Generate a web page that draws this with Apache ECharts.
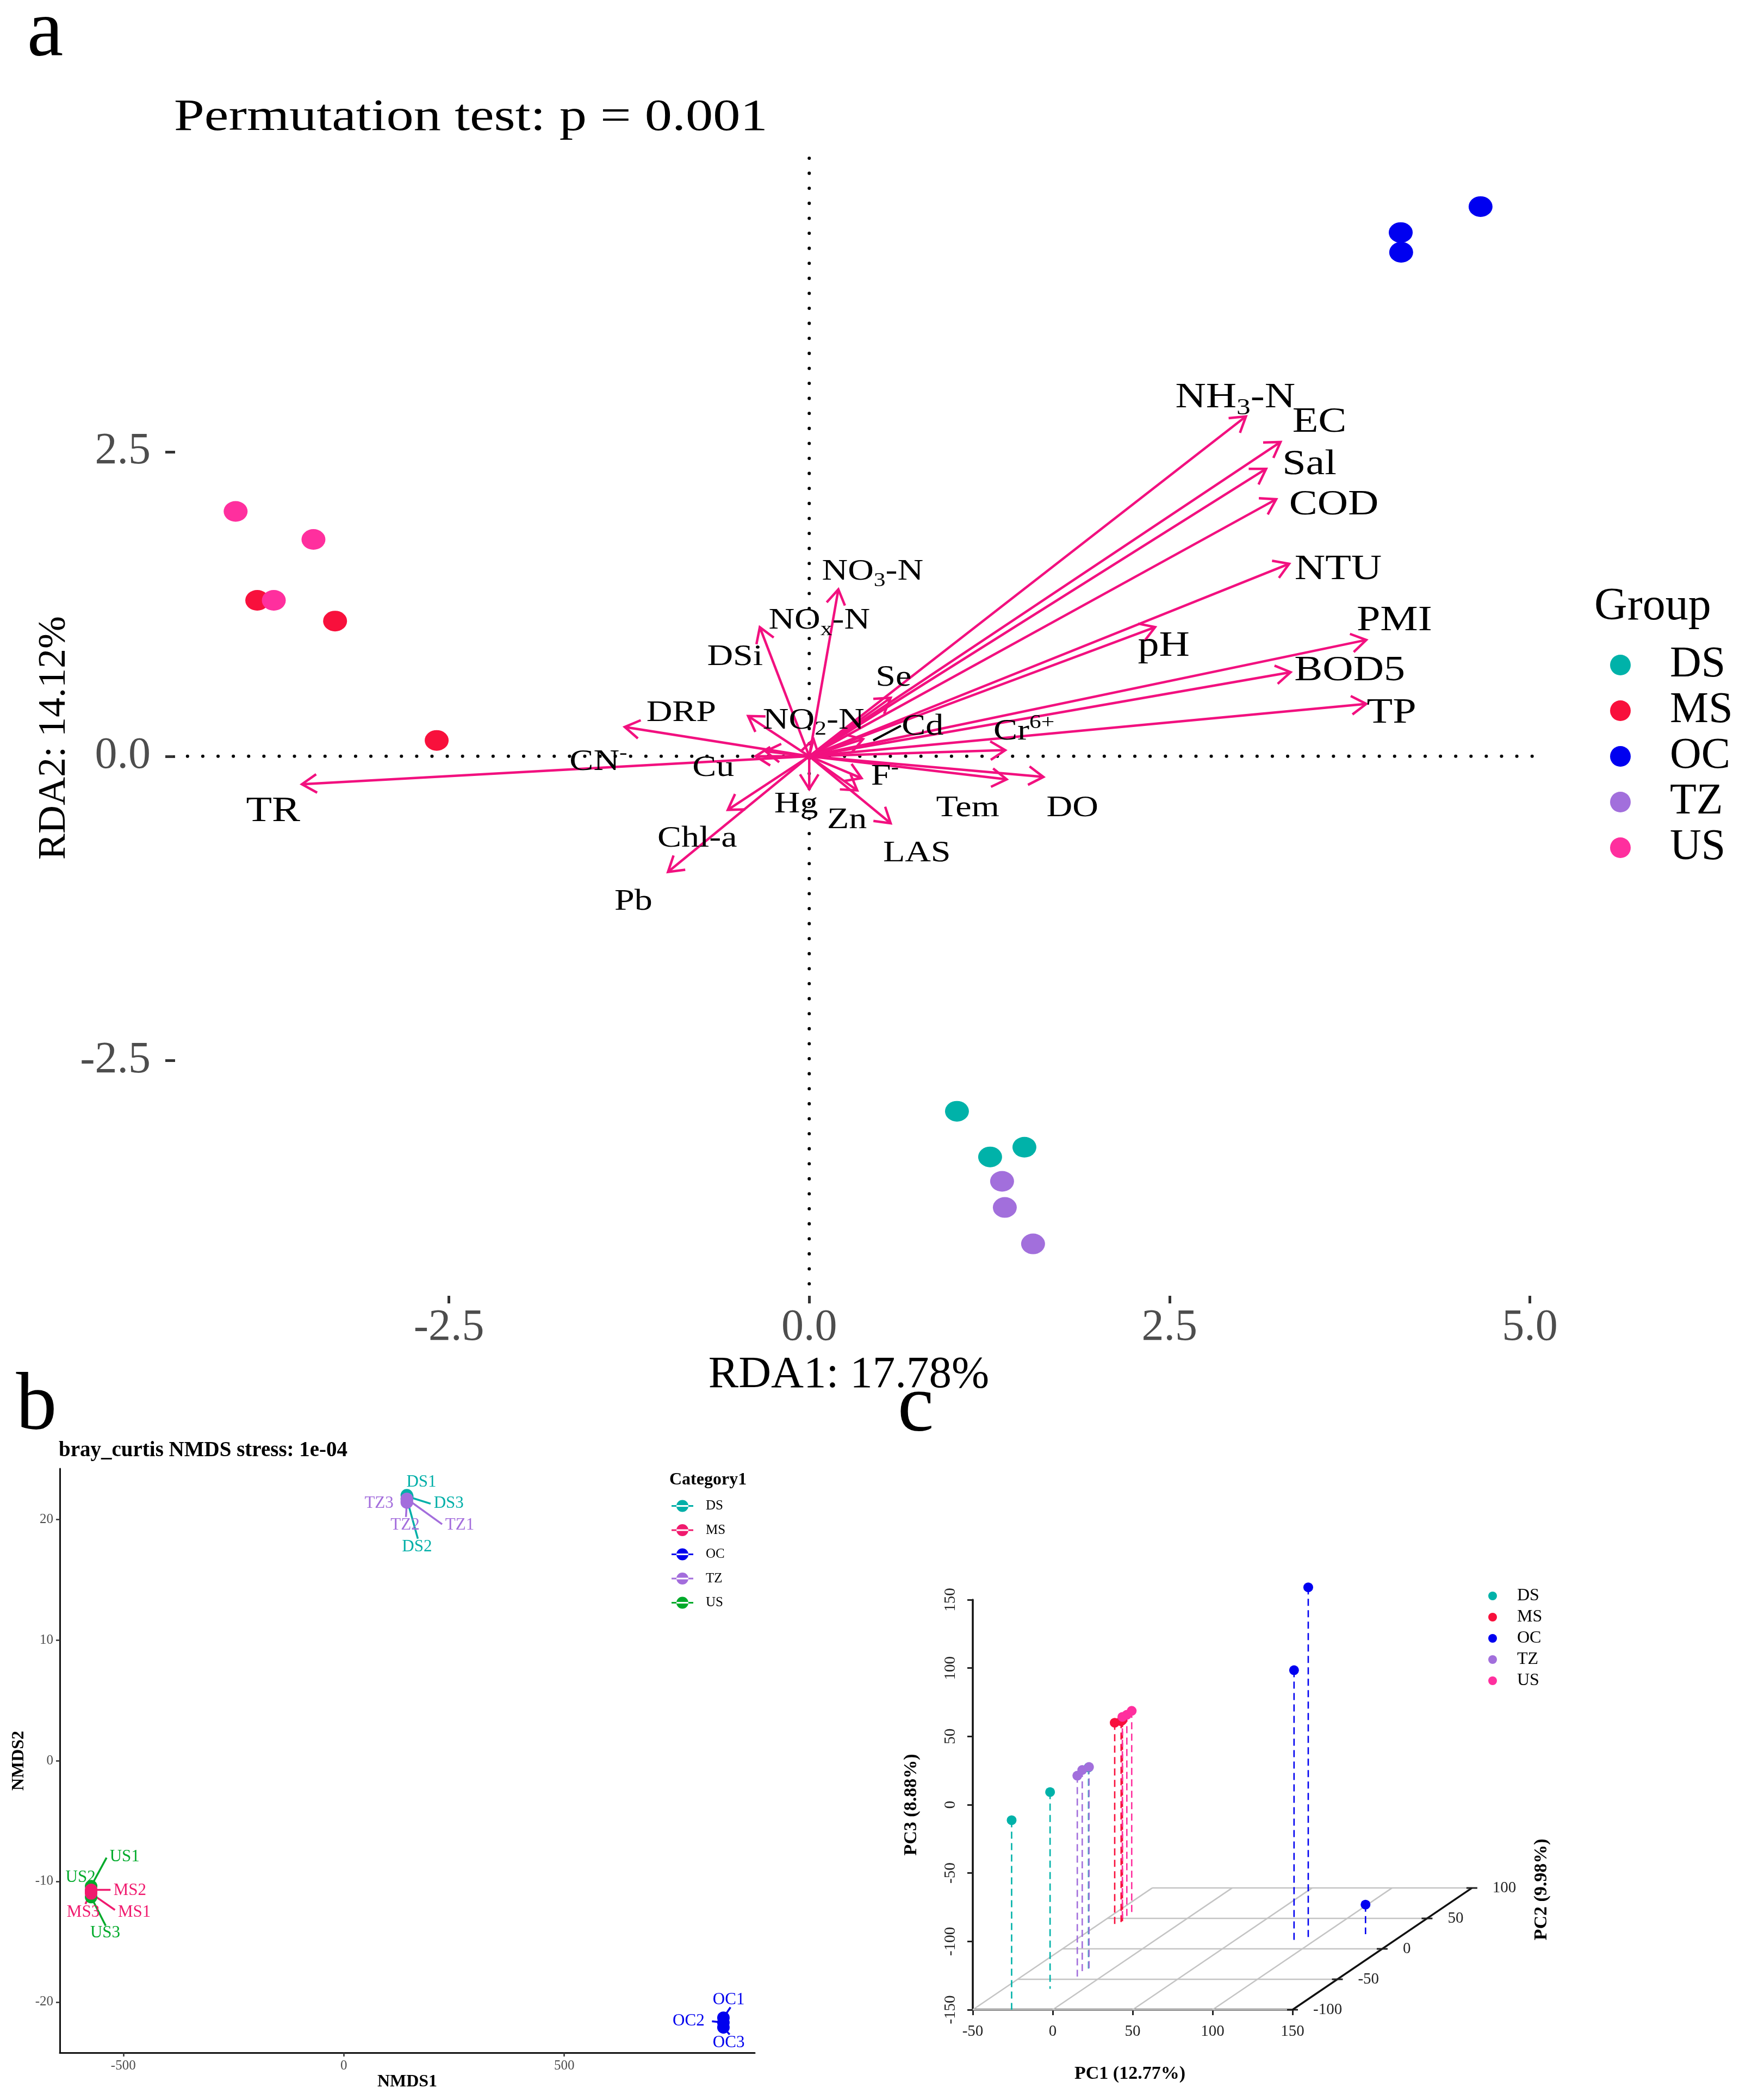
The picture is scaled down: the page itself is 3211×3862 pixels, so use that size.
<!DOCTYPE html>
<html><head><meta charset="utf-8">
<style>html,body{margin:0;padding:0;background:#fff}#c{width:3211px;height:3862px}</style>
<script src="https://cdn.jsdelivr.net/npm/echarts@6/dist/echarts.min.js"></script>
</head><body><div id="c"></div>
<script>
const SERIF = '"Liberation Serif"';
// ---------- Panel a: RDA ----------
const groups = ['DS','MS','OC','TZ','US'];
const colorsA = {DS:'#00B2A9',MS:'#F8103C',OC:'#0000F0',TZ:'#A26FDC',US:'#FF2F9E'};
const siteGroupA = ['US','US','US','MS','MS','MS','OC','OC','OC','DS','DS','DS','TZ','TZ','TZ'];
const siteXA = [-3.98,-3.44,-3.715,-3.83,-3.29,-2.585,4.658,4.104,4.107,1.025,1.255,1.493,1.338,1.357,1.553];
const siteYA = [2.01,1.78,1.28,1.28,1.11,0.13,4.513,4.30,4.138,-2.915,-3.29,-3.21,-3.49,-3.705,-4.004];
const envNames = ['NH3-N','EC','Sal','COD','NTU','pH','PMI','BOD5','TP','Cr6+','Tem','DO','LAS','F-','Zn','Hg','Chl-a','Pb','TR','CN-','Cu','DRP','NO2-N','DSi','NOx-N','NO3-N','Se','Cd'];
const envX = [3.03,3.27,3.17,3.24,3.33,2.40,3.865,3.34,3.865,1.36,1.37,1.625,0.565,0.363,0.333,0.00,-0.565,-0.98,-3.52,-0.303,-0.373,-1.28,-0.424,0.03,-0.343,0.202,0.565,0.373];
const envY = [2.79,2.58,2.36,2.11,1.58,1.06,0.955,0.69,0.43,0.05,-0.19,-0.17,-0.55,-0.18,-0.28,-0.27,-0.44,-0.95,-0.23,0.04,0.00,0.24,0.33,0.14,1.06,1.37,0.48,0.14];
const envLabelX = [2.956,3.54,3.47,3.64,3.67,2.46,4.06,3.75,4.04,1.49,1.10,1.826,0.747,0.525,0.262,-0.091,-0.777,-1.22,-3.72,-1.463,-0.666,-0.888,0.03,-0.515,0.07,0.44,0.585,0.787];
const envLabelY = [2.96,2.76,2.41,2.08,1.55,0.92,1.13,0.72,0.37,0.22,-0.41,-0.41,-0.78,-0.15,-0.51,-0.38,-0.66,-1.18,-0.44,-0.03,-0.08,0.37,0.31,0.83,1.13,1.53,0.66,0.26];
const envLarge = ['NH3-N','EC','Sal','COD','NTU','pH','PMI','BOD5','TP','TR'];
const envRich = {'NH3-N':'{M|NH}{D|3}{M|-N}','NO3-N':'{M|NO}{D|3}{M|-N}','NOx-N':'{M|NO}{D|x}{M|-N}','NO2-N':'{M|NO}{D|2}{M|-N}','Cr6+':'{M|Cr}{U|6+}','CN-':'{M|CN}{U|-}','F-':'{M|F}{U|-}'};
const cdLeaderX = [0.444,0.636];
const cdLeaderY = [0.13,0.25];
const zeroLineX = [-4.42,5.055];
const zeroLineY = [4.91,-4.43];
const ticksXA = [-2.5,0,2.5,5];
const ticksYA = [-2.5,0,2.5];
// ---------- Panel b: NMDS ----------
const colorsB = {DS:'#00AFA8',MS:'#F01A6E',OC:'#0000EE',TZ:'#A36DDC',US:'#00AA2A'};
const bNames = ['DS1','DS2','DS3','TZ1','TZ2','TZ3','US1','US2','US3','MS1','MS2','MS3','OC1','OC2','OC3'];
const bX = [143,143,144,143,143,143,-573,-573,-573,-573,-573,-573,861,861,861];
const bY = [22.0,21.7,21.9,21.7,21.4,21.5,-10.4,-10.8,-11.3,-11.0,-10.7,-10.9,-21.3,-21.7,-22.1];
const bLabelX = [176,166,238,263,139,80,-497,-597,-541,-475,-485,-591,873,782,873];
const bLabelY = [23.1,17.7,21.3,19.5,19.5,21.3,-7.95,-9.7,-14.3,-12.55,-10.75,-12.55,-19.8,-21.6,-23.4];
const bEndX = [null,168,197,223,141,null,-538,null,-540,-519,-529,-586,877,835,875];
const bEndY = [null,18.4,21.3,19.6,20.2,null,-8.04,null,-13.68,-12.37,-10.7,-11.87,-20.44,-21.6,-22.7];
// ---------- Panel c: PCoA 3D ----------
const cGroup = ['DS','DS','DS','MS','MS','MS','OC','OC','OC','TZ','TZ','TZ','US','US','US'];
const pc1 = [-25.7,-21,-15,-40.1,-37.7,-38,87.4,94.6,126,-15.2,-16.2,-14.7,-40.4,-39.3,-39];
const pc2 = [-100,-65.5,-33.3,40.6,44.9,44,13.3,16.3,24.2,-45.5,-38.2,-33.3,49.7,52.7,57.6];
const pc3 = [-11.3,-6.1,-2.4,-2.6,-2.6,-3,48,107.3,-128.4,-3,-2.1,-2.1,-2.4,-2.2,-1.5];
const pc1Ticks = [-50,0,50,100,150];
const pc2Ticks = [-100,-50,0,50,100];
// 3D → plane of the c grid (PC1 / PC3 units), depth shift per PC2 unit
const depthX = 0.561, depthY = 0.4454;
const proj = (a,b,c)=>[a+(b+100)*depthX, c+(b+100)*depthY];

function lineEl(api,p,q,stroke,w,dash){
  const A=api.coord(p),B=api.coord(q);
  return {type:'line',shape:{x1:A[0],y1:A[1],x2:B[0],y2:B[1]},style:{stroke,lineWidth:w,lineDash:dash||null}};
}
const series = [];
// a: dotted zero lines
series.push({type:'line',name:'zeroH',xAxisIndex:0,yAxisIndex:0,data:zeroLineX.map(x=>[x,0]),symbol:'none',silent:true,z:1,clip:false,
  lineStyle:{color:'#000',width:6,type:[0.1,28],cap:'round'}});
series.push({type:'line',name:'zeroV',xAxisIndex:0,yAxisIndex:0,data:zeroLineY.map(y=>[0,y]),symbol:'none',silent:true,z:1,clip:false,
  lineStyle:{color:'#000',width:6,type:[0.1,27.5],cap:'round'}});
// a: sites
groups.forEach(g=>{
  series.push({type:'scatter',name:g,xAxisIndex:0,yAxisIndex:0,symbol:'circle',symbolSize:[44,38],z:3,
    itemStyle:{color:colorsA[g],opacity:1},
    data:siteGroupA.map((s,i)=>s===g?[siteXA[i],siteYA[i]]:null).filter(Boolean)});
});
// a: arrows
series.push({type:'custom',name:'env',xAxisIndex:0,yAxisIndex:0,z:4,silent:true,
  data:envX.map((x,i)=>[x,envY[i]]),
  encode:{x:0,y:1},
  renderItem:(p,api)=>{
    const O=api.coord([0,0]),T=api.coord([api.value(0),api.value(1)]);
    const ang=Math.atan2(T[1]-O[1],T[0]-O[0]),len=32,sp=0.56;
    const b1=[T[0]-len*Math.cos(ang-sp),T[1]-len*Math.sin(ang-sp)];
    const b2=[T[0]-len*Math.cos(ang+sp),T[1]-len*Math.sin(ang+sp)];
    const st={stroke:'#F2107F',lineWidth:4.5,fill:null};
    return {type:'group',children:[
      {type:'polyline',shape:{points:[O,T]},style:st},
      {type:'polyline',shape:{points:[b1,T,b2]},style:st}]};
  }});
// a: Cd leader
series.push({type:'line',name:'CdLeader',xAxisIndex:0,yAxisIndex:0,z:4,symbol:'none',silent:true,
  data:cdLeaderX.map((x,i)=>[x,cdLeaderY[i]]),lineStyle:{color:'#000',width:4}});
// a: labels
series.push({type:'custom',name:'envLabels',xAxisIndex:0,yAxisIndex:0,z:5,silent:true,
  data:envLabelX.map((x,i)=>[x,envLabelY[i]]),
  encode:{x:0,y:1},
  renderItem:(p,api)=>{
    const n=envNames[p.dataIndex],P=api.coord([api.value(0),api.value(1)]);
    const fs=envLarge.includes(n)?65:55;
    const tok=(size,va)=>({fontFamily:SERIF,fontSize:size,fill:'#000',lineHeight:fs*1.25,verticalAlign:va||'middle'});
    return {type:'text',x:P[0],y:P[1]+4,scaleX:1.2,style:{
      text:envRich[n]||n,fontFamily:SERIF,fontSize:fs,fill:'#000',align:'center',verticalAlign:'middle',
      rich:{M:tok(fs),D:tok(fs*.66,'bottom'),U:tok(fs*.66,'top')}}};
  }});
// b: leaders
series.push({type:'custom',name:'bLeaders',xAxisIndex:1,yAxisIndex:1,z:2,silent:true,
  data:bX.map((x,i)=>[x,bY[i],bEndX[i]===null?x:bEndX[i],bEndY[i]===null?bY[i]:bEndY[i]]),
  encode:{x:0,y:1},
  renderItem:(p,api)=>{
    const n=bNames[p.dataIndex],g=n.slice(0,2);
    return lineEl(api,[api.value(0),api.value(1)],[api.value(2),api.value(3)],colorsB[g],3.5);
  }});
// b: points (drawn per group)
['US','DS','TZ','MS','OC'].forEach(g=>{
  series.push({type:'scatter',name:g,xAxisIndex:1,yAxisIndex:1,symbol:'circle',symbolSize:23,z:3,
    itemStyle:{color:colorsB[g],opacity:1},
    data:bNames.map((n,i)=>n.startsWith(g)?[bX[i],bY[i]]:null).filter(Boolean)});
});
// b: labels
series.push({type:'custom',name:'bLabels',xAxisIndex:1,yAxisIndex:1,z:5,silent:true,
  data:bLabelX.map((x,i)=>[x,bLabelY[i]]),
  encode:{x:0,y:1},
  renderItem:(p,api)=>{
    const n=bNames[p.dataIndex],P=api.coord([api.value(0),api.value(1)]);
    return {type:'text',x:P[0],y:P[1],style:{text:n,fontFamily:SERIF,fontSize:31,fill:colorsB[n.slice(0,2)],align:'center',verticalAlign:'middle'}};
  }});
// c: floor grid
const floorLines=[];
pc1Ticks.forEach(a=>floorLines.push([a,-100,a,100]));
pc2Ticks.forEach(b=>floorLines.push([-50,b,150,b]));
series.push({type:'custom',name:'floor',xAxisIndex:2,yAxisIndex:2,z:1,silent:true,data:floorLines,
  encode:{x:0,y:1},
  renderItem:(p,api)=>lineEl(api,proj(api.value(0),api.value(1),-150),proj(api.value(2),api.value(3),-150),'#c4c4c4',2.5)});
// c: PC2 axis
series.push({type:'custom',name:'pc2Axis',xAxisIndex:2,yAxisIndex:2,z:2,silent:true,data:pc2Ticks.map(b=>[b]),
  encode:{x:0},
  renderItem:(p,api)=>{
    const b=api.value(0),P=api.coord(proj(150,b,-150));
    const kids=[{type:'line',shape:{x1:P[0]-10,y1:P[1],x2:P[0]+10,y2:P[1]},style:{stroke:'#222',lineWidth:3}},
      {type:'text',x:P[0]+38,y:P[1],style:{text:String(b),fontFamily:SERIF,fontSize:29,fill:'#222',align:'left',verticalAlign:'middle'}}];
    if(b===-100){const Q=api.coord(proj(150,100,-150));kids.push({type:'line',shape:{x1:P[0],y1:P[1],x2:Q[0],y2:Q[1]},style:{stroke:'#111',lineWidth:3.5}});}
    return {type:'group',children:kids};
  }});
series.push({type:'custom',name:'pc2Name',xAxisIndex:2,yAxisIndex:2,z:2,silent:true,data:[[305.8,-62]],
  encode:{x:0,y:1},
  renderItem:(p,api)=>{const P=api.coord([api.value(0),api.value(1)]);
    return {type:'text',x:P[0],y:P[1],rotation:Math.PI/2,style:{text:'PC2 (9.98%)',fontFamily:SERIF,fontWeight:'bold',fontSize:34,fill:'#000',align:'center',verticalAlign:'middle'}};}});
// c: drop lines
series.push({type:'custom',name:'drops',xAxisIndex:2,yAxisIndex:2,z:3,silent:true,
  data:pc1.map((a,i)=>[a,pc2[i],pc3[i]]),encode:{x:0,y:1},
  renderItem:(p,api)=>{
    const a=api.value(0),b=api.value(1),c=api.value(2),g=cGroup[p.dataIndex];
    return lineEl(api,proj(a,b,c),proj(a,b,-150),colorsA[g],2.6,[13,8]);
  }});
// c: points
groups.forEach(g=>{
  series.push({type:'scatter',name:g,xAxisIndex:2,yAxisIndex:2,symbol:'circle',symbolSize:18,z:4,clip:false,
    itemStyle:{color:colorsA[g],opacity:1},
    data:cGroup.map((s,i)=>s===g?proj(pc1[i],pc2[i],pc3[i]):null).filter(Boolean)});
});

const lg=(names,colors,icon)=>names.map(n=>({name:n,icon,itemStyle:{color:colors[n],opacity:1}}));
const bIcon='path://M0 9.5h40v3H0zM9 11a11 11 0 1 0 22 0a11 11 0 1 0-22 0z';
const option={
  animation:false,backgroundColor:'#fff',
  grid:[
    {left:322,top:291,width:2496,height:2092,containLabel:false},
    {left:110,top:2701,width:1278,height:1074,containLabel:false},
    {left:1789,top:2942,width:588,height:754,containLabel:false}],
  xAxis:[
    {type:'value',gridIndex:0,min:-4.40,max:5.017,name:'RDA1: 17.78%',nameLocation:'middle',nameGap:96,
     nameTextStyle:{fontFamily:SERIF,fontSize:83,color:'#000',padding:[0,18,0,0]},
     axisLine:{show:false,onZero:false},axisTick:{show:true,length:14,customValues:ticksXA,lineStyle:{color:'#333',width:5}},
     axisLabel:{customValues:ticksXA,formatter:v=>v.toFixed(1),fontFamily:SERIF,fontSize:82,color:'#4d4d4d',margin:18},splitLine:{show:false}},
    {type:'value',gridIndex:1,min:-644,max:932,name:'NMDS1',nameLocation:'middle',nameGap:36,
     nameTextStyle:{fontFamily:SERIF,fontSize:32,fontWeight:'bold',color:'#000'},
     axisLine:{show:true,onZero:false,lineStyle:{color:'#111',width:3}},axisTick:{length:7,customValues:[-500,0,500],lineStyle:{color:'#333',width:2.5}},
     axisLabel:{customValues:[-500,0,500],fontFamily:SERIF,fontSize:25,color:'#4d4d4d',margin:12},splitLine:{show:false}},
    {type:'value',gridIndex:2,min:-50,max:150,interval:50,name:'PC1 (12.77%)',nameLocation:'middle',nameGap:101,
     nameTextStyle:{fontFamily:SERIF,fontSize:34,fontWeight:'bold',color:'#000',padding:[0,10,0,0]},
     axisLine:{show:true,onZero:false,lineStyle:{color:'#111',width:3.5}},axisTick:{length:10,lineStyle:{color:'#222',width:3}},
     axisLabel:{fontFamily:SERIF,fontSize:29,color:'#222',margin:26},splitLine:{show:false}}],
  yAxis:[
    {type:'value',gridIndex:0,min:-4.43,max:4.91,name:'RDA2: 14.12%',nameLocation:'middle',nameGap:155,
     nameTextStyle:{fontFamily:SERIF,fontSize:72,color:'#000',padding:[0,40,0,0]},
     axisLine:{show:false,onZero:false},axisTick:{show:true,length:18,customValues:ticksYA,lineStyle:{color:'#333',width:5}},
     axisLabel:{customValues:ticksYA,formatter:v=>v.toFixed(1),fontFamily:SERIF,fontSize:82,color:'#4d4d4d',margin:45,padding:[8,0,0,0]},splitLine:{show:false}},
    {type:'value',gridIndex:1,min:-24.2,max:24.2,name:'NMDS2',nameLocation:'middle',nameGap:59,
     nameTextStyle:{fontFamily:SERIF,fontSize:32,fontWeight:'bold',color:'#000'},
     axisLine:{show:true,onZero:false,lineStyle:{color:'#111',width:3}},axisTick:{length:7,customValues:[-20,-10,0,10,20],lineStyle:{color:'#333',width:2.5}},
     axisLabel:{customValues:[-20,-10,0,10,20],fontFamily:SERIF,fontSize:25,color:'#4d4d4d',margin:12},splitLine:{show:false}},
    {type:'value',gridIndex:2,min:-150,max:150,interval:50,name:'PC3 (8.88%)',nameLocation:'middle',nameGap:96,
     nameTextStyle:{fontFamily:SERIF,fontSize:34,fontWeight:'bold',color:'#000'},
     axisLine:{show:true,onZero:false,lineStyle:{color:'#111',width:3.5}},axisTick:{length:10,lineStyle:{color:'#222',width:3}},
     axisLabel:{rotate:90,fontFamily:SERIF,fontSize:29,color:'#222',margin:26},splitLine:{show:false}}],
  title:[
    {text:'bray_curtis NMDS stress: 1e-04',left:108,top:2648,padding:0,textStyle:{fontFamily:SERIF,fontSize:39,fontWeight:'bold',color:'#000'}},
    {text:'Group',left:2932,top:1075,padding:0,textStyle:{fontFamily:SERIF,fontSize:84,fontWeight:'normal',color:'#000'}},
    {text:'Category1',left:1231,top:2706,padding:0,textStyle:{fontFamily:SERIF,fontSize:32,fontWeight:'bold',color:'#000'}}],
  legend:[
    {orient:'vertical',left:2961,top:1183,padding:0,itemWidth:44,itemHeight:38,itemGap:4,symbolKeepAspect:false,selectedMode:false,
     data:lg(groups,colorsA,'circle'),textStyle:{fontFamily:SERIF,fontSize:80,color:'#000',lineHeight:38,padding:[0,0,0,64]}},
    {orient:'vertical',left:1235,top:2757,padding:0,itemWidth:40,itemHeight:22,itemGap:19.5,symbolKeepAspect:false,selectedMode:false,
     data:lg(groups,colorsB,bIcon),textStyle:{fontFamily:SERIF,fontSize:25,color:'#000',lineHeight:20,padding:[0,0,0,18]}},
    {orient:'vertical',left:2737,top:2919,padding:0,itemWidth:16,itemHeight:16,itemGap:7,symbolKeepAspect:false,selectedMode:false,
     data:lg(groups,colorsA,'circle'),textStyle:{fontFamily:SERIF,fontSize:32,color:'#000',lineHeight:16,padding:[0,0,0,32]}}],
  graphic:[
    {type:'text',x:320,y:217,scaleX:1.225,style:{text:'Permutation test: p = 0.001',fontFamily:SERIF,fontSize:82,fill:'#000',textAlign:'left',textVerticalAlign:'middle'}},
    {type:'text',x:83,y:63,style:{text:'a',fontFamily:SERIF,fontSize:150,fill:'#000',textAlign:'center',textVerticalAlign:'middle'}},
    {type:'text',x:67,y:2589,style:{text:'b',fontFamily:SERIF,fontSize:150,fill:'#000',textAlign:'center',textVerticalAlign:'middle'}},
    {type:'text',x:1684,y:2592,style:{text:'c',fontFamily:SERIF,fontSize:150,fill:'#000',textAlign:'center',textVerticalAlign:'middle'}}],
  series
};
const chart=echarts.init(document.getElementById('c'),null,{renderer:'canvas',width:3211,height:3862});
chart.setOption(option);
</script></body></html>
